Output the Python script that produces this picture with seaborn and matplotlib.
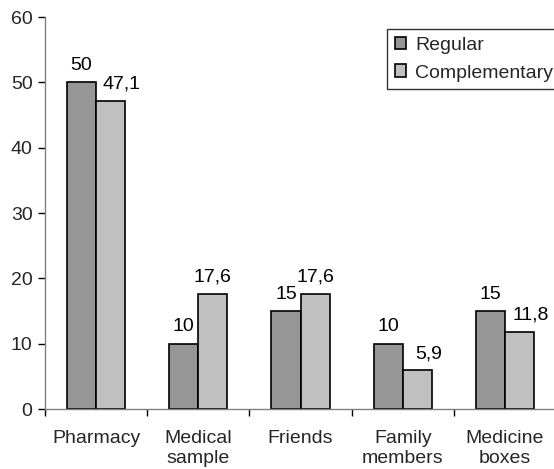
import numpy as np
import pandas as pd
import matplotlib
matplotlib.use("Agg")
import matplotlib.pyplot as plt
import seaborn as sns

# values
categories = ["Pharmacy", "Medical\nsample", "Friends", "Family\nmembers", "Medicine\nboxes"]
regular = [50, 10, 15, 10, 15]
complementary = [47.1, 17.6, 17.6, 5.9, 11.8]
series_names = ["Regular", "Complementary"]
y_ticks = [0, 10, 20, 30, 40, 50, 60]

df = pd.DataFrame({
    "category": categories * 2,
    "value": regular + complementary,
    "series": [series_names[0]] * len(categories) + [series_names[1]] * len(categories),
})

sns.set_theme(style="white")
plt.rcParams["font.family"] = ["Liberation Sans", "DejaVu Sans"]
FS = 14

fig = plt.figure(figsize=(5.54, 4.69), dpi=100)
ax = fig.add_axes([45 / 554, 60 / 469, 511 / 554, 392 / 469])

sns.barplot(
    data=df, x="category", y="value", hue="series",
    palette=["#969696", "#c0c0c0"], width=0.57,
    edgecolor="black", linewidth=1.2, ax=ax, legend=True,
)

# data labels with decimal comma; nudge a label right when it would
# collide with the taller neighbouring label (as the original does)
reg_cont, comp_cont = ax.containers[0], ax.containers[1]
ax.bar_label(reg_cont, labels=[f"{v:g}".replace(".", ",") for v in reg_cont.datavalues],
             padding=6, fontsize=FS, color="black")
comp_texts = ax.bar_label(comp_cont, labels=[f"{v:g}".replace(".", ",") for v in comp_cont.datavalues],
                          padding=6, fontsize=FS, color="black")
for t, r, c in zip(comp_texts, regular, complementary):
    if 0 < r - c < 5:
        x, y = t.xyann
        t.xyann = (x + 8, y)

ax.set_ylim(0, 60)
ax.set_xlim(-0.5, len(categories) - 0.5)
ax.set_yticks(y_ticks)
ax.set_yticklabels([str(t) for t in y_ticks])

# ticks between groups, labels centred under groups
ax.set_xticks(np.arange(len(categories) + 1) - 0.5)
ax.set_xticklabels([])
ax.set_xticks(np.arange(len(categories)), minor=True)
ax.set_xticklabels(categories, minor=True, linespacing=1.25)
ax.tick_params(axis="x", which="minor", length=0, pad=15, labelsize=FS)
ax.tick_params(axis="x", which="major", direction="out", length=5, width=1, color="black")
ax.tick_params(axis="y", direction="out", length=5, width=1, color="black", labelsize=FS, pad=4)
ax.tick_params(left=True, bottom=True)

ax.set_xlabel("")
ax.set_ylabel("")
for side in ["top", "right"]:
    ax.spines[side].set_visible(False)
ax.spines["left"].set_color("#808080")
ax.spines["bottom"].set_color("#808080")
ax.spines["left"].set_linewidth(1)
ax.spines["bottom"].set_linewidth(1)

leg = ax.legend(
    loc="upper left", bbox_to_anchor=(387 / 554, 1 - 29 / 469),
    bbox_transform=fig.transFigure, frameon=True, fancybox=False,
    edgecolor="black", fontsize=FS, handlelength=0.6, handleheight=0.6,
    handletextpad=0.45, labelspacing=0.55, borderpad=0.4, borderaxespad=0,
)
leg.get_frame().set_linewidth(1)

fig.savefig("out.png", dpi=100)
